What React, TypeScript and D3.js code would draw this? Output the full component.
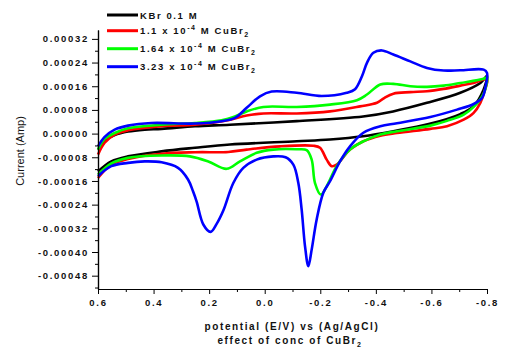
import React, { useEffect, useRef } from 'react';
import * as d3 from 'd3';

type Pt = [number, number];

// potential (V) , current (A) ; forward scan 0.6 -> -0.8 then back to 0.6
const kbrLoop: Pt[] = [
  [0.6, -5.4e-5], [0.576, -2.4e-5], [0.54, -0.5e-5], [0.492, 0.7e-5], [0.432, 1.35e-5],
  [0.371, 1.6e-5], [0.251, 2.5e-5], [0.125, 3.0e-5], [-0.115, 4.2e-5], [-0.354, 5.8e-5],
  [-0.462, 7.5e-5], [-0.584, 10.4e-5], [-0.704, 13.8e-5], [-0.776, 17.1e-5], [-0.8, 19.5e-5],
  [-0.788, 14.9e-5], [-0.752, 9.3e-5], [-0.704, 6.6e-5], [-0.59, 3.2e-5], [-0.463, 0.8e-5],
  [-0.354, -0.9e-5], [-0.235, -2.0e-5], [-0.115, -2.6e-5], [0.125, -3.7e-5], [0.251, -4.8e-5],
  [0.371, -6.0e-5], [0.492, -7.7e-5], [0.552, -9.4e-5], [0.6, -12.8e-5],
];

const cu110Loop: Pt[] = [
  [0.6, -7.1e-5], [0.576, -3.1e-5], [0.54, -0.3e-5], [0.492, 1.1e-5], [0.371, 2.5e-5],
  [0.251, 3.0e-5], [0.128, 4.6e-5], [0.065, 6.1e-5], [0.005, 6.8e-5], [-0.115, 6.8e-5],
  [-0.235, 7.5e-5], [-0.343, 9.2e-5], [-0.404, 10.4e-5], [-0.43, 12.0e-5], [-0.463, 13.5e-5],
  [-0.524, 14.0e-5], [-0.584, 14.3e-5], [-0.644, 15.1e-5], [-0.704, 16.2e-5], [-0.752, 17.1e-5],
  [-0.8, 18.3e-5],
  [-0.79, 14.0e-5], [-0.776, 10.4e-5], [-0.752, 7.0e-5], [-0.716, 4.7e-5], [-0.656, 2.5e-5],
  [-0.596, 1.6e-5], [-0.476, 0.2e-5], [-0.416, -0.7e-5], [-0.355, -2.6e-5], [-0.307, -5.4e-5],
  [-0.259, -10.5e-5], [-0.241, -11.0e-5], [-0.223, -8.8e-5], [-0.199, -4.8e-5], [-0.175, -4.1e-5],
  [-0.055, -4.3e-5], [0.065, -5.4e-5], [0.131, -6.2e-5], [0.251, -6.3e-5], [0.371, -6.8e-5],
  [0.492, -8.6e-5], [0.552, -10.5e-5], [0.6, -15.0e-5],
];

const cu164Loop: Pt[] = [
  [0.6, -5.4e-5], [0.576, -1.8e-5], [0.54, 0.2e-5], [0.492, 1.8e-5], [0.371, 3.0e-5],
  [0.251, 3.6e-5], [0.155, 4.5e-5], [0.115, 5.5e-5], [0.065, 7.5e-5], [0.005, 9.0e-5],
  [-0.115, 9.0e-5], [-0.235, 9.8e-5], [-0.332, 11.3e-5], [-0.368, 13.2e-5], [-0.416, 16.6e-5],
  [-0.463, 16.8e-5], [-0.524, 16.0e-5], [-0.584, 15.8e-5], [-0.644, 16.2e-5], [-0.704, 17.1e-5],
  [-0.788, 18.5e-5], [-0.8, 19.0e-5],
  [-0.788, 13.5e-5], [-0.752, 9.0e-5], [-0.716, 6.4e-5], [-0.656, 4.3e-5], [-0.596, 2.7e-5],
  [-0.476, 0.8e-5], [-0.416, -0.3e-5], [-0.355, -2.6e-5], [-0.307, -5.4e-5], [-0.259, -11.0e-5],
  [-0.235, -15.5e-5], [-0.223, -17.8e-5], [-0.202, -20.6e-5], [-0.181, -16.7e-5], [-0.169, -8.8e-5],
  [-0.151, -5.6e-5], [-0.115, -5.3e-5], [-0.031, -5.4e-5], [0.029, -6.5e-5], [0.089, -9.4e-5],
  [0.137, -11.9e-5], [0.203, -9.4e-5], [0.269, -7.7e-5], [0.371, -7.4e-5], [0.492, -8.2e-5],
  [0.552, -10.1e-5], [0.6, -13.9e-5],
];

const cu323Loop: Pt[] = [
  [0.6, -4.3e-5], [0.576, -1.1e-5], [0.54, 1.35e-5], [0.492, 2.7e-5], [0.408, 3.6e-5],
  [0.251, 3.4e-5], [0.155, 4.2e-5], [0.107, 5.3e-5], [0.065, 8.7e-5], [0.017, 12.6e-5],
  [-0.025, 14.2e-5], [-0.115, 13.8e-5], [-0.205, 12.7e-5], [-0.295, 13.8e-5], [-0.325, 15.0e-5],
  [-0.35, 19.4e-5], [-0.368, 23.9e-5], [-0.391, 27.3e-5], [-0.422, 28.1e-5], [-0.463, 26.7e-5],
  [-0.524, 24.4e-5], [-0.584, 22.2e-5], [-0.644, 21.3e-5], [-0.704, 21.4e-5], [-0.788, 21.6e-5],
  [-0.8, 20.5e-5],
  [-0.794, 15.5e-5], [-0.782, 12.0e-5], [-0.752, 10.0e-5], [-0.692, 8.1e-5], [-0.596, 5.6e-5],
  [-0.476, 3.5e-5], [-0.416, 2.5e-5], [-0.355, 0.3e-5], [-0.307, -4.3e-5], [-0.271, -9.4e-5],
  [-0.235, -16.1e-5], [-0.211, -20.0e-5], [-0.187, -29.0e-5], [-0.169, -39.2e-5], [-0.157, -44.8e-5],
  [-0.145, -38.0e-5], [-0.133, -25.7e-5], [-0.121, -16.7e-5], [-0.103, -10.5e-5], [-0.075, -8.0e-5],
  [-0.031, -7.7e-5], [0.029, -8.8e-5], [0.077, -11.6e-5], [0.113, -16.7e-5], [0.149, -26.0e-5],
  [0.173, -30.5e-5], [0.195, -33.2e-5], [0.221, -30.7e-5], [0.245, -23.0e-5], [0.258, -19.5e-5],
  [0.276, -15.5e-5], [0.312, -11.6e-5], [0.371, -9.7e-5], [0.432, -9.4e-5], [0.492, -9.9e-5],
  [0.552, -11.0e-5], [0.6, -14.4e-5],
];

const seriesColors = ['#000000', '#ff0000', '#00ff00', '#0000ff'];
const concentrations = ['', '1.1', '1.64', '3.23'];
const xTicks = [0.6, 0.4, 0.2, 0.0, -0.2, -0.4, -0.6, -0.8];
const xMinorTicks = [0.5, 0.3, 0.1, -0.1, -0.3, -0.5, -0.7];
const yTicks = [-0.00048, -0.0004, -0.00032, -0.00024, -0.00016, -0.00008, 0, 0.00008, 0.00016, 0.00024, 0.00032];
const yMinorTicks = [-0.00052, -0.00044, -0.00036, -0.00028, -0.0002, -0.00012, -0.00004, 0.00004, 0.00012, 0.0002, 0.00028];

const FONT = "'Liberation Sans', Arial, sans-serif";

export default function App() {
  const ref = useRef<SVGSVGElement>(null);

  useEffect(() => {
    const svg = d3.select(ref.current);
    svg.selectAll('*').remove();

    const x = d3.scaleLinear().domain([0.6, -0.8]).range([98, 487]);
    const y = d3.scaleLinear().domain([-0.000525, 0.00035]).range([289, 30]);

    // curves
    const line = d3.line<Pt>()
      .x(d => x(d[0]))
      .y(d => y(d[1]))
      .curve(d3.curveCatmullRom.alpha(0.5));

    const loops = [kbrLoop, cu110Loop, cu164Loop, cu323Loop];
    svg.append('g')
      .selectAll('path')
      .data(loops)
      .enter()
      .append('path')
      .attr('d', d => line(d))
      .attr('fill', 'none')
      .attr('stroke', (d, i) => seriesColors[i])
      .attr('stroke-width', 2.6)
      .attr('stroke-linejoin', 'round');

    // axes
    const yAxis = svg.append('g').attr('transform', 'translate(98,0)')
      .call(d3.axisLeft(y).tickValues(yTicks).tickSize(6).tickSizeOuter(0).tickPadding(3)
        .tickFormat(d => (d as number).toFixed(5)));
    svg.append('g').attr('transform', 'translate(98,0)')
      .call(d3.axisLeft(y).tickValues(yMinorTicks).tickSize(3).tickSizeOuter(0).tickFormat(() => ''));

    const xAxis = svg.append('g').attr('transform', 'translate(0,289)')
      .call(d3.axisBottom(x).tickValues(xTicks).tickSize(5).tickSizeOuter(0).tickPadding(5)
        .tickFormat(d => (d as number).toFixed(1)));
    svg.append('g').attr('transform', 'translate(0,289)')
      .call(d3.axisBottom(x).tickValues(xMinorTicks).tickSize(3).tickSizeOuter(0).tickFormat(() => ''));

    svg.selectAll('.domain').attr('stroke', '#000').attr('stroke-width', 1.2);
    svg.selectAll('.tick line').attr('stroke', '#000');
    [yAxis, xAxis].forEach(a => a.selectAll('text')
      .attr('font-family', FONT)
      .attr('font-size', 9.5)
      .attr('font-weight', 'bold')
      .attr('letter-spacing', 1.7)
      .attr('fill', '#111'));

    // axis titles
    svg.append('text')
      .attr('transform', 'translate(24,151) rotate(-90)')
      .attr('text-anchor', 'middle')
      .attr('font-family', FONT)
      .attr('font-size', 11)
      .attr('fill', '#111')
      .text('Current (Amp)');

    svg.append('text')
      .attr('x', 292).attr('y', 330)
      .attr('text-anchor', 'middle')
      .attr('font-family', FONT)
      .attr('font-size', 10)
      .attr('font-weight', 'bold')
      .attr('letter-spacing', 1.6)
      .attr('fill', '#111')
      .text('potential (E/V) vs (Ag/AgCl)');

    const t2 = svg.append('text')
      .attr('x', 290).attr('y', 344)
      .attr('text-anchor', 'middle')
      .attr('font-family', FONT)
      .attr('font-size', 10)
      .attr('font-weight', 'bold')
      .attr('letter-spacing', 1.6)
      .attr('fill', '#111');
    t2.append('tspan').text('effect of conc of CuBr');
    t2.append('tspan').attr('font-size', 7).attr('dy', 3).text('2');

    // legend
    const rows = [15, 30.7, 48.7, 66.7];
    const lg = svg.append('g');
    seriesColors.forEach((c, i) => {
      lg.append('line')
        .attr('x1', 107).attr('x2', 138)
        .attr('y1', rows[i]).attr('y2', rows[i])
        .attr('stroke', c).attr('stroke-width', 3);
      const t = lg.append('text')
        .attr('x', 140).attr('y', rows[i] + 3.5)
        .attr('font-family', FONT)
        .attr('font-size', 9.5)
        .attr('font-weight', 'bold')
        .attr('letter-spacing', 1.6)
        .attr('fill', '#111');
      if (i === 0) {
        t.text('KBr 0.1 M');
      } else {
        t.append('tspan').text(concentrations[i] + ' x 10');
        t.append('tspan').attr('font-size', 7).attr('dy', -4).text('-4');
        t.append('tspan').attr('dy', 4).text(' M CuBr');
        t.append('tspan').attr('font-size', 7).attr('dy', 3).text('2');
      }
    });
  }, []);

  return (
    <svg ref={ref} width={525} height={353}
      style={{ position: 'absolute', left: 0, top: 0, background: '#fff' }} />
  );
}
